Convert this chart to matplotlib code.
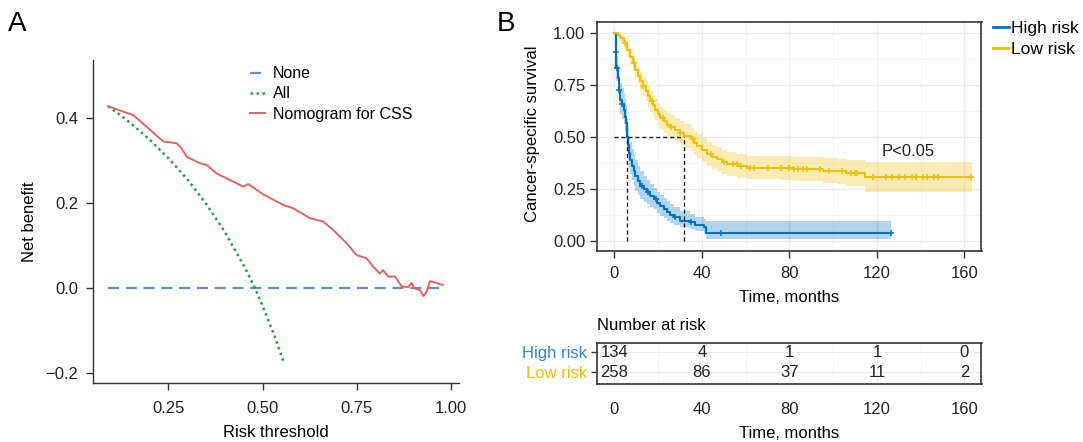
import numpy as np
import matplotlib
matplotlib.use("Agg")
import matplotlib.pyplot as plt
from matplotlib.lines import Line2D

plt.rcParams['font.family'] = ['Liberation Sans', 'DejaVu Sans']
plt.rcParams['font.size'] = 12

# ---- Panel A: decision curve ----
none_thr = [0.09, 0.98]
none_nb = [0.0, 0.0]

all_thr = [0.09, 0.12, 0.15, 0.20, 0.25, 0.30, 0.35, 0.40, 0.45, 0.48, 0.50, 0.53, 0.555]
all_nb = [0.427, 0.408, 0.387, 0.349, 0.305, 0.256, 0.198, 0.132, 0.053, 0.0, -0.042, -0.108, -0.171]

model_thr = [0.09, 0.157, 0.21, 0.237, 0.272, 0.285, 0.299, 0.334, 0.352, 0.378,
             0.422, 0.449, 0.462, 0.502, 0.555, 0.582, 0.626, 0.661, 0.688, 0.723,
             0.750, 0.776, 0.794, 0.811, 0.820, 0.833, 0.851, 0.869, 0.887, 0.895,
             0.904, 0.918, 0.927, 0.935, 0.944, 0.962, 0.978]
model_nb = [0.427, 0.406, 0.365, 0.344, 0.340, 0.328, 0.308, 0.293, 0.289, 0.269,
            0.250, 0.238, 0.244, 0.220, 0.195, 0.187, 0.164, 0.156, 0.136, 0.105,
            0.077, 0.070, 0.050, 0.034, 0.042, 0.027, 0.027, 0.004, 0.002, 0.012,
            -0.001, -0.005, -0.019, -0.009, 0.016, 0.012, 0.007]

# ---- Panel B: Kaplan-Meier ----
hr_t = [0, 0.5, 0.9, 1.4, 2.0, 2.7, 3.5, 4.3, 5.0, 5.5, 5.8, 6.2, 6.5, 7.2, 8.1,
        8.8, 9.6, 10.8, 11.9, 13.3, 14.9, 16.4, 17.9, 19.5, 21.0, 22.5, 24.1, 25.6,
        27.1, 30.1, 34.7, 37.0, 40.8, 42.0, 126.4]
hr_s = [1.0, 0.909, 0.83, 0.78, 0.726, 0.678, 0.655, 0.630, 0.595, 0.566, 0.50, 0.46,
        0.423, 0.39, 0.359, 0.335, 0.311, 0.285, 0.263, 0.248, 0.232, 0.215, 0.200,
        0.183, 0.167, 0.152, 0.136, 0.124, 0.112, 0.096, 0.088, 0.075, 0.064, 0.035, 0.035]
hr_up = [1.0, 0.96, 0.89, 0.845, 0.80, 0.76, 0.735, 0.71, 0.68, 0.65, 0.59, 0.55,
         0.51, 0.475, 0.44, 0.415, 0.39, 0.36, 0.335, 0.31, 0.29, 0.27, 0.255, 0.235,
         0.22, 0.205, 0.19, 0.175, 0.16, 0.14, 0.13, 0.115, 0.105, 0.096, 0.096]
hr_lo = [1.0, 0.86, 0.77, 0.715, 0.66, 0.61, 0.585, 0.56, 0.525, 0.49, 0.43, 0.39,
         0.35, 0.32, 0.29, 0.265, 0.24, 0.22, 0.20, 0.188, 0.176, 0.163, 0.15, 0.135,
         0.12, 0.107, 0.095, 0.085, 0.075, 0.064, 0.055, 0.045, 0.038, 0.008, 0.008]
hr_cens = [0.5, 1.0, 2.2, 3.5, 12.5, 15.5, 19.0, 27.5, 35.0, 48.8, 126.4]

lr_t = [0, 1.5, 2.7, 4.2, 5.8, 7.3, 8.5, 9.6, 10.8, 11.9, 13.0, 14.2, 15.3, 16.4,
        17.5, 18.7, 19.8, 21, 22.5, 24, 26, 27.9, 29.8, 31.8, 34.8, 36.3, 37.9, 40,
        42.4, 44.7, 47, 49.3, 51.6, 56.1, 60.7, 76, 81.6, 95.3, 102, 105.7, 111.7,
        114.6, 163.3]
lr_s = [1.0, 0.99, 0.973, 0.95, 0.917, 0.885, 0.853, 0.822, 0.794, 0.766, 0.742,
        0.718, 0.694, 0.67, 0.65, 0.63, 0.61, 0.59, 0.574, 0.558, 0.546, 0.534, 0.518,
        0.502, 0.487, 0.471, 0.455, 0.435, 0.415, 0.403, 0.391, 0.379, 0.367, 0.359,
        0.351, 0.351, 0.346, 0.336, 0.333, 0.327, 0.327, 0.307, 0.307]
lr_up = [1.0, 1.0, 0.99, 0.975, 0.947, 0.92, 0.891, 0.862, 0.837, 0.811, 0.789,
         0.766, 0.743, 0.72, 0.701, 0.682, 0.663, 0.644, 0.629, 0.613, 0.602, 0.59,
         0.575, 0.559, 0.544, 0.528, 0.512, 0.492, 0.472, 0.46, 0.448, 0.436, 0.424,
         0.416, 0.408, 0.409, 0.404, 0.396, 0.393, 0.389, 0.389, 0.379, 0.379]
lr_lo = [1.0, 0.98, 0.953, 0.923, 0.887, 0.85, 0.815, 0.782, 0.751, 0.721, 0.695,
         0.67, 0.645, 0.62, 0.599, 0.578, 0.557, 0.536, 0.519, 0.503, 0.49, 0.478,
         0.461, 0.445, 0.43, 0.414, 0.398, 0.378, 0.358, 0.346, 0.334, 0.322, 0.31,
         0.302, 0.294, 0.293, 0.288, 0.276, 0.273, 0.265, 0.265, 0.235, 0.235]
lr_cens = [5, 9, 13, 17, 22, 26, 30, 36, 44, 50, 54, 56, 58, 62, 64, 70, 76, 80,
           82, 84, 86, 88, 94, 98, 104, 108, 110, 111, 118, 124, 127, 130, 133,
           136, 138, 141, 143, 146, 148, 163]

median_hr = 5.8
median_lr = 32.0

# number at risk
risk_times = [0, 40, 80, 120, 160]
risk_high = [134, 4, 1, 1, 0]
risk_low = [258, 86, 37, 11, 2]

BLUE = "#0073C2"
YELLOW = "#EFC000"
FRAME = "#333333"

W, H = 1083, 442
fig = plt.figure(figsize=(W / 100, H / 100), dpi=100)


def box(l, t, r, b):
    return [l / W, 1 - b / H, (r - l) / W, (b - t) / H]


# ---------- A ----------
axA = fig.add_axes(box(93.3, 60, 459.3, 383.3))
axA.plot(none_thr, none_nb, color="#5B8FD8", lw=1.6, ls=(0, (5, 3)), label="None")
axA.plot(all_thr, all_nb, color="#23A03C", lw=1.8, ls=(0, (1, 1.4)), label="All")
axA.plot(model_thr, model_nb, color="#E0655E", lw=1.4, label="Nomogram for CSS")
axA.set_xlim(0.051, 1.022)
axA.set_ylim(-0.2237, 0.5355)
axA.set_xticks([0.25, 0.50, 0.75, 1.00])
axA.set_xticklabels(["0.25", "0.50", "0.75", "1.00"])
axA.set_yticks([-0.2, 0.0, 0.2, 0.4])
axA.set_yticklabels(["\u22120.2", "0.0", "0.2", "0.4"])
for s in ["top", "right"]:
    axA.spines[s].set_visible(False)
for s in ["left", "bottom"]:
    axA.spines[s].set_color(FRAME)
    axA.spines[s].set_linewidth(1.0)
axA.tick_params(length=5, width=1.0, color=FRAME, labelcolor="#222222")
axA.tick_params(axis="x", pad=8)
axA.tick_params(axis="y", pad=6)
axA.set_xlabel("Risk threshold", labelpad=6)
axA.set_ylabel("Net benefit", labelpad=6)
axA.legend(loc="upper left", bbox_to_anchor=(0.39, 1.025), frameon=False,
           fontsize=11.5, handlelength=0.9, handletextpad=0.5, labelspacing=0.32)

fig.text(8 / W, 1 - 24 / H, "A", fontsize=20, va="center", ha="left")
fig.text(497 / W, 1 - 24 / H, "B", fontsize=20, va="center", ha="left")

# ---------- B ----------
axB = fig.add_axes(box(596.5, 22.3, 981.5, 251))
axB.set_xlim(-8.2, 167.8)
axB.set_ylim(-0.05, 1.05)
axB.set_xticks([0, 40, 80, 120, 160])
axB.set_xticks([20, 60, 100, 140], minor=True)
axB.set_yticks([0, 0.25, 0.5, 0.75, 1.0])
axB.set_yticklabels(["0.00", "0.25", "0.50", "0.75", "1.00"])
axB.set_yticks([0.125, 0.375, 0.625, 0.875], minor=True)
axB.grid(which="major", color="#EBEBEB", lw=0.9)
axB.grid(which="minor", color="#F4F4F4", lw=0.6)
axB.set_axisbelow(True)
axB.tick_params(which="minor", length=0)
axB.tick_params(which="major", length=5, width=1.0, color=FRAME, labelcolor="#222222", pad=3)
axB.tick_params(axis="x", pad=6)
for s in axB.spines.values():
    s.set_color(FRAME)
    s.set_linewidth(1.2)

for t, s, up, lo, cens, col, lab in [
        (hr_t, hr_s, hr_up, hr_lo, hr_cens, BLUE, "High risk"),
        (lr_t, lr_s, lr_up, lr_lo, lr_cens, YELLOW, "Low risk")]:
    axB.fill_between(t, lo, up, step="post", color=col, alpha=0.3, lw=0)
    axB.step(t, s, where="post", color=col, lw=1.5, label=lab)
    idx = np.searchsorted(t, cens, side="right") - 1
    axB.plot(cens, np.array(s)[idx], ls="none", marker="+", ms=5, mew=1.1, color=col)

axB.plot([0, median_lr], [0.5, 0.5], ls=(0, (3, 2)), color="#222222", lw=1.0)
axB.plot([median_hr, median_hr], [0, 0.5], ls=(0, (3, 2)), color="#222222", lw=1.0)
axB.plot([median_lr, median_lr], [0, 0.5], ls=(0, (3, 2)), color="#222222", lw=1.0)
axB.text(122, 0.427, "P<0.05", fontsize=12, ha="left", va="center", color="#222222")

handles = [Line2D([], [], color=BLUE, lw=2), Line2D([], [], color=YELLOW, lw=2)]
fig.legend(handles, ["High risk", "Low risk"], loc="upper left",
           bbox_to_anchor=(986 / W, 1 - 14 / H), frameon=False, fontsize=12.5,
           handlelength=0.95, handletextpad=0.1, labelspacing=0.35, borderaxespad=0)

fig.text(533 / W, 1 - 134 / H, "Cancer-specific survival", rotation=90,
         ha="center", va="center", fontsize=12)
fig.text(789 / W, 1 - 298 / H, "Time, months", ha="center", va="center", fontsize=12)

# ---------- risk table ----------
axT = fig.add_axes(box(596.5, 343.3, 981.5, 384.3))
axT.set_xlim(-8.2, 167.8)
axT.set_ylim(0.4, 2.45)
axT.set_xticks([0, 40, 80, 120, 160])
axT.set_xticks([20, 60, 100, 140], minor=True)
axT.set_yticks([1, 2])
axT.set_yticklabels(["Low risk", "High risk"])
for lbl, col in zip(axT.get_yticklabels(), [YELLOW, "#2E86D0"]):
    lbl.set_color(col)
axT.grid(which="major", color="#EBEBEB", lw=0.9)
axT.grid(which="minor", axis="x", color="#F4F4F4", lw=0.6)
axT.set_axisbelow(True)
axT.tick_params(axis="x", which="both", length=0, pad=13, labelcolor="#222222")
axT.tick_params(axis="y", length=4, width=1.0, color=FRAME, pad=3)
for s in axT.spines.values():
    s.set_color(FRAME)
    s.set_linewidth(1.2)
for tm, nh, nl in zip(risk_times, risk_high, risk_low):
    axT.text(tm, 2, str(nh), ha="center", va="center", fontsize=12, color="#222222")
    axT.text(tm, 1, str(nl), ha="center", va="center", fontsize=12, color="#222222")

fig.text(597 / W, 1 - 325 / H, "Number at risk", ha="left", va="center", fontsize=12)
fig.text(789 / W, 1 - 433 / H, "Time, months", ha="center", va="center", fontsize=12)

fig.savefig("out.png", dpi=100)
